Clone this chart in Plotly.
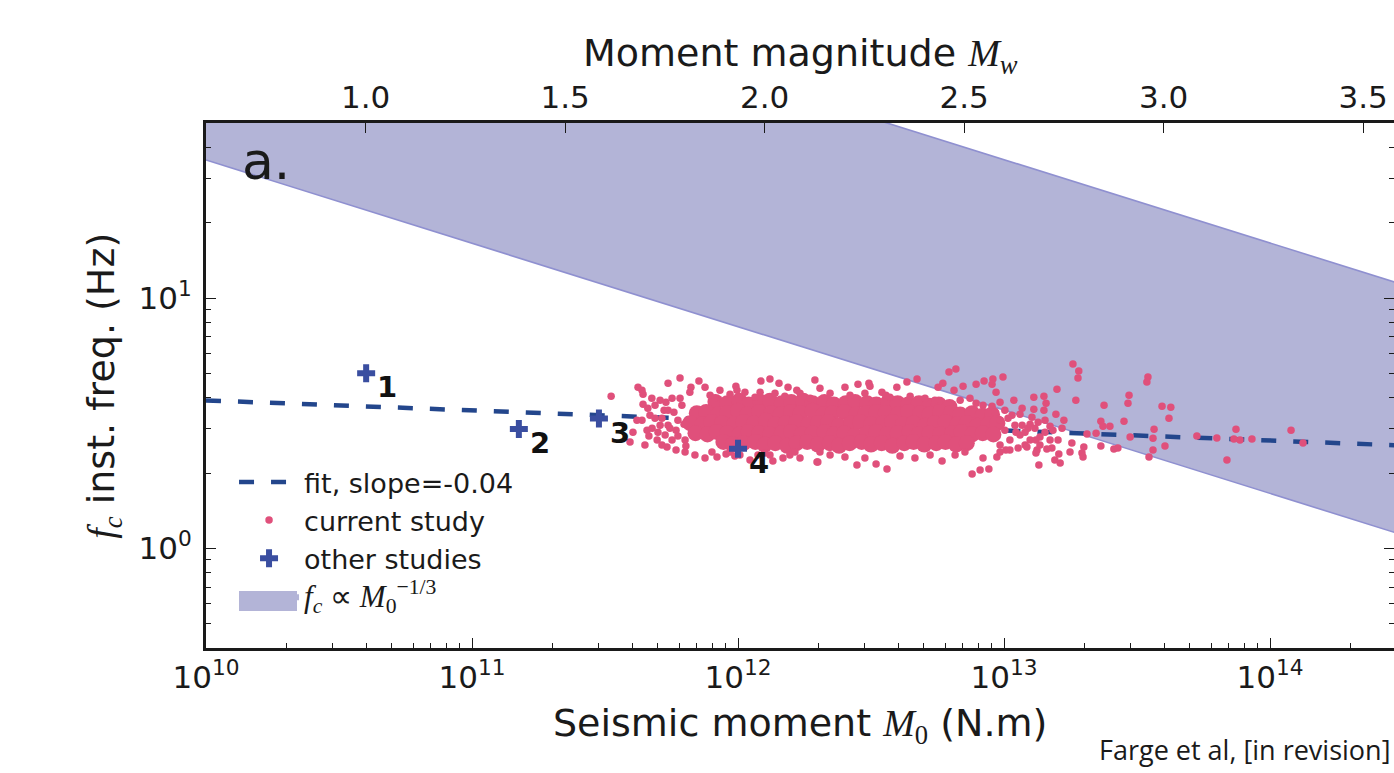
import numpy as np
import plotly.graph_objects as go

# ---------------- data ----------------
# other studies (crosses with numbers)
study_m0 = [4e10, 1.5e11, 3e11, 1e12]
study_fc = [5.0, 3.0, 3.3, 2.5]
study_labels = ["1", "2", "3", "4"]

# fitted line, slope -0.04 in log-log
fit_m0 = [1e10, 3e14]
fit_fc = [3.9, 2.58]

# fc ~ M0^(-1/3) band (lower and upper edges)
band_m0 = [1e10, 3e14]
band_fc_low = [35.6, 1.15]
band_fc_high = [356.0, 11.5]

# axis ticks
mw_ticks = [1.0, 1.5, 2.0, 2.5, 3.0, 3.5]
mw_tick_text = ["1.0", "1.5", "2.0", "2.5", "3.0", "3.5"]
m0_tick_exps = [10, 11, 12, 13, 14]
fc_tick_exps = [0, 1]

# current study: scattered events (log10 M0 [N.m], log10 fc [Hz])
cloud_log_m0 = [
    11.523, 11.624, 11.639, 11.643, 11.643, 11.737, 11.782, 11.853, 11.823, 11.876,
    11.992, 11.996, 12.086, 12.120, 12.154, 12.188, 12.221, 12.289, 11.594, 11.658,
    11.665, 11.733, 11.921, 11.955, 12.131, 12.169, 12.297, 11.620, 11.639, 11.669,
    11.688, 11.707, 11.722, 11.707, 11.726, 11.752, 11.767, 11.801, 11.838, 11.876,
    12.007, 12.045, 12.075, 12.233, 11.819, 11.932, 12.026, 11.737, 11.752, 11.774,
    11.767, 11.789, 11.801, 11.895, 12.083, 11.970, 12.120, 12.195, 12.139, 12.233,
    11.688, 11.677, 11.696, 11.737, 12.308, 12.402, 12.451, 12.492, 12.496, 12.541,
    12.556, 12.597, 12.635, 12.673, 12.752, 12.770, 12.793, 12.819, 12.812, 12.846,
    12.895, 12.925, 12.958, 12.955, 12.996, 12.970, 13.037, 12.895, 12.921, 12.955,
    13.060, 12.300, 12.447, 12.519, 12.560, 12.767, 12.880, 12.910, 12.943, 12.921,
    12.973, 12.346, 12.421, 12.477, 12.571, 12.647, 12.703, 12.740, 12.835, 12.872,
    12.346, 12.402, 12.477, 12.609, 12.665, 12.722, 12.816, 12.853, 12.985, 13.022,
    12.985, 13.003, 13.022, 13.041, 13.060, 13.079, 13.030, 13.090, 12.985, 12.966,
    13.003, 12.985, 13.259, 13.281, 13.278, 13.541, 13.537, 13.199, 13.112, 13.150,
    13.158, 13.112, 13.105, 13.128, 13.195, 13.270, 13.154, 13.470, 13.466, 13.376,
    13.364, 13.372, 13.398, 13.451, 13.594, 13.627, 13.620, 13.564, 13.560, 13.474,
    13.346, 13.312, 13.218, 13.184, 13.255, 13.300, 13.364, 13.413, 13.428, 13.560,
    13.545, 13.605, 13.725, 13.800, 13.872, 13.864, 13.887, 13.932, 13.838, 14.079,
    14.124, 13.293, 13.297, 13.248, 13.206, 13.211, 13.191, 13.131, 13.180, 13.161,
    13.124, 13.120, 13.135, 13.086, 13.068, 13.079, 13.098, 13.116, 13.135, 13.154,
    13.173, 11.661, 11.676, 11.699, 11.714, 11.729, 11.744, 11.759, 11.774, 11.782,
    11.797, 11.804, 11.714, 11.650, 11.605, 13.015, 13.045, 13.068, 13.098, 13.120,
    13.150, 13.173, 13.203, 13.225, 13.053, 13.007, 11.913, 11.970, 12.064, 12.176,
    12.271, 11.902, 11.988, 12.101, 12.214, 12.308,
]
cloud_log_fc = [
    0.608, 0.644, 0.632, 0.616, 0.576, 0.660, 0.680, 0.668, 0.644, 0.644,
    0.648, 0.632, 0.668, 0.676, 0.660, 0.644, 0.632, 0.672, 0.425, 0.472,
    0.449, 0.405, 0.365, 0.377, 0.349, 0.361, 0.345, 0.512, 0.512, 0.532,
    0.520, 0.592, 0.552, 0.492, 0.453, 0.433, 0.393, 0.385, 0.373, 0.361,
    0.373, 0.353, 0.373, 0.361, 0.624, 0.632, 0.624, 0.552, 0.600, 0.512,
    0.472, 0.572, 0.433, 0.612, 0.624, 0.385, 0.373, 0.373, 0.620, 0.620,
    0.572, 0.480, 0.433, 0.492, 0.640, 0.644, 0.656, 0.660, 0.648, 0.624,
    0.612, 0.644, 0.664, 0.676, 0.644, 0.660, 0.704, 0.716, 0.632, 0.648,
    0.656, 0.668, 0.676, 0.656, 0.684, 0.624, 0.592, 0.580, 0.572, 0.568,
    0.536, 0.345, 0.333, 0.337, 0.317, 0.349, 0.297, 0.313, 0.317, 0.361,
    0.365, 0.620, 0.612, 0.620, 0.604, 0.608, 0.600, 0.592, 0.592, 0.600,
    0.373, 0.365, 0.361, 0.369, 0.361, 0.373, 0.373, 0.385, 0.385, 0.393,
    0.512, 0.472, 0.433, 0.492, 0.453, 0.413, 0.532, 0.480, 0.413, 0.544,
    0.552, 0.584, 0.736, 0.708, 0.680, 0.684, 0.664, 0.636, 0.604, 0.608,
    0.580, 0.556, 0.524, 0.504, 0.536, 0.592, 0.512, 0.612, 0.580, 0.572,
    0.508, 0.488, 0.488, 0.508, 0.568, 0.564, 0.520, 0.476, 0.440, 0.445,
    0.460, 0.457, 0.480, 0.472, 0.421, 0.405, 0.409, 0.397, 0.401, 0.393,
    0.365, 0.409, 0.449, 0.441, 0.476, 0.437, 0.433, 0.437, 0.353, 0.472,
    0.421, 0.381, 0.365, 0.385, 0.377, 0.341, 0.353, 0.333, 0.401, 0.397,
    0.393, 0.381, 0.445, 0.405, 0.492, 0.464, 0.433, 0.480, 0.413, 0.464,
    0.433, 0.560, 0.600, 0.464, 0.520, 0.584, 0.480, 0.544, 0.449, 0.600,
    0.496, 0.409, 0.413, 0.413, 0.464, 0.520, 0.464, 0.560, 0.496, 0.433,
    0.552, 0.488, 0.433, 0.512, 0.401, 0.393, 0.600, 0.616, 0.604, 0.608,
    0.600, 0.385, 0.369, 0.381, 0.385, 0.385,
]

# current study: the densely overlapping centre of the cloud
core_log_m0 = [
    11.915, 11.96, 12.005, 12.04, 12.085, 12.12, 12.165, 12.20, 12.245,
    12.28, 12.325, 12.36, 12.405, 12.44, 12.485, 12.52, 12.565, 12.60, 12.64,
    12.68, 12.72, 12.755, 12.795,
    11.845, 11.88, 11.925, 11.96, 12.00, 12.035, 12.08, 12.125, 12.16, 12.20,
    12.235, 12.28, 12.32, 12.355, 12.40, 12.445, 12.48, 12.52, 12.555, 12.60,
    12.64, 12.685, 12.72, 12.76, 12.80, 12.835, 12.88, 12.92, 12.955,
    11.82, 11.865, 11.90, 11.94, 11.985, 12.02, 12.06, 12.105, 12.14, 12.18,
    12.22, 12.265, 12.30, 12.34, 12.38, 12.425, 12.46, 12.50, 12.545, 12.58,
    12.62, 12.66, 12.705, 12.74, 12.78, 12.825, 12.86, 12.90, 12.94, 12.975,
    11.84, 11.885, 11.92, 11.96, 12.005, 12.04, 12.08, 12.12, 12.165, 12.20,
    12.24, 12.28, 12.325, 12.36, 12.40, 12.44, 12.485, 12.52, 12.56, 12.60,
    12.645, 12.68, 12.72, 12.76, 12.805, 12.84, 12.88, 12.92, 12.96,
    11.945, 11.98, 12.02, 12.065, 12.10, 12.14, 12.185, 12.22, 12.26,
    12.30, 12.345, 12.38, 12.42, 12.465, 12.50, 12.54, 12.58, 12.625, 12.66,
    12.70, 12.745, 12.78, 12.82, 12.86,
]
core_log_fc = [
    0.585, 0.58, 0.59, 0.575, 0.585, 0.59, 0.58, 0.585, 0.59,
    0.58, 0.585, 0.575, 0.58, 0.585, 0.58, 0.575, 0.585, 0.58, 0.575,
    0.58, 0.57, 0.575, 0.565,
    0.54, 0.545, 0.535, 0.54, 0.55, 0.535, 0.545, 0.54, 0.535, 0.545,
    0.54, 0.55, 0.535, 0.54, 0.545, 0.535, 0.54, 0.545, 0.54, 0.535,
    0.545, 0.54, 0.535, 0.545, 0.54, 0.535, 0.54, 0.53, 0.535,
    0.50, 0.495, 0.505, 0.50, 0.495, 0.505, 0.50, 0.51, 0.495, 0.50,
    0.505, 0.495, 0.50, 0.505, 0.49, 0.50, 0.505, 0.495, 0.50, 0.505,
    0.495, 0.50, 0.49, 0.50, 0.505, 0.495, 0.50, 0.49, 0.495, 0.50,
    0.46, 0.455, 0.465, 0.46, 0.455, 0.465, 0.46, 0.455, 0.46, 0.465,
    0.455, 0.46, 0.465, 0.455, 0.46, 0.45, 0.46, 0.465, 0.455, 0.46,
    0.465, 0.455, 0.46, 0.455, 0.46, 0.465, 0.455, 0.46, 0.455,
    0.425, 0.415, 0.42, 0.425, 0.415, 0.42, 0.41, 0.42, 0.425,
    0.415, 0.42, 0.41, 0.42, 0.425, 0.415, 0.42, 0.41, 0.42, 0.425,
    0.415, 0.42, 0.425, 0.415, 0.42,
]

# ---------------- styling ----------------
FONT = "DejaVu Sans"
INK = "#1a1a1a"
PINK = "#e0507b"
CROSS = "#3a4ea0"
FIT = "#23468c"
BAND_FILL = "#b3b4d7"
BAND_EDGE = "#8f90d0"
MATH = "<span style=\"font-family:'Liberation Serif'\">{}</span>"
MATH_BIG = "<span style=\"font-family:'Liberation Serif';font-size:31px\">{}</span>"

x_range = [10.0, 14.466]
y_range = [np.log10(0.4), np.log10(50.0)]

fig = go.Figure()

# band: lower edge, fill, upper edge
fig.add_trace(go.Scatter(
    x=band_m0, y=band_fc_low, mode="lines",
    line=dict(color=BAND_EDGE, width=1.6), showlegend=False, hoverinfo="skip"))
fig.add_trace(go.Scatter(
    x=band_m0, y=band_fc_high, mode="lines", fill="tonexty",
    fillcolor=BAND_FILL, line=dict(color=BAND_FILL, width=0),
    name=MATH_BIG.format("<i>f</i><sub><i>c</i></sub> \u221d <i>M</i><sub>0</sub><sup>\u22121/3</sup>"),
    legendrank=4))
fig.add_trace(go.Scatter(
    x=band_m0, y=band_fc_high, mode="lines",
    line=dict(color=BAND_EDGE, width=1.6), showlegend=False, hoverinfo="skip"))

# fit
fig.add_trace(go.Scatter(
    x=fit_m0, y=fit_fc, mode="lines",
    line=dict(color=FIT, width=4.5, dash="15px,17px"),
    name="fit, slope=-0.04", legendrank=1))

# current study
fig.add_trace(go.Scatter(
    x=[10 ** v for v in core_log_m0], y=[10 ** v for v in core_log_fc],
    mode="markers", marker=dict(color=PINK, size=16, line=dict(width=0)),
    showlegend=False, legendgroup="cur", hoverinfo="skip"))
fig.add_trace(go.Scatter(
    x=[10 ** v for v in cloud_log_m0], y=[10 ** v for v in cloud_log_fc],
    mode="markers", marker=dict(color=PINK, size=7.5, line=dict(width=0)),
    name="current study", legendgroup="cur", legendrank=2))

# other studies (drawn on the overlay axes, which share the same ranges)
fig.add_trace(go.Scatter(
    x=study_m0, y=study_fc, mode="markers", xaxis="x2", yaxis="y2",
    marker=dict(color=CROSS, symbol="cross", size=15, line=dict(width=0)),
    name="other studies", legendrank=3))

# minor tick positions
x_minor = [k * 10.0 ** n for n in range(10, 15) for k in range(2, 10)]
y_minor = [k * 10.0 ** n for n in range(-1, 2) for k in range(2, 10)]

axis_common = dict(type="log", showgrid=False, zeroline=False,
                   ticks="inside", tickcolor=INK, tickwidth=1.3, ticklen=10,
                   tickfont=dict(family=FONT, size=31, color=INK))

fig.update_layout(
    width=1394, height=773,
    margin=dict(l=206, r=0, t=123, b=125),
    paper_bgcolor="white", plot_bgcolor="white",
    font=dict(family=FONT, color=INK),
    xaxis=dict(**axis_common, range=x_range,
               tickvals=[10.0 ** e for e in m0_tick_exps],
               ticktext=[f"10<sup>{e}</sup>" for e in m0_tick_exps],
               minor=dict(tickvals=x_minor, ticks="inside", ticklen=5,
                          tickcolor=INK, tickwidth=1.1),
               showline=True, linecolor=INK, linewidth=3),
    xaxis2=dict(**axis_common, range=x_range, overlaying="x", side="top",
                anchor="y",
                tickvals=[10.0 ** (1.5 * m + 9.1) for m in mw_ticks],
                ticktext=mw_tick_text,
                showline=True, linecolor=INK, linewidth=3),
    yaxis=dict(**axis_common, range=y_range,
               tickvals=[10.0 ** e for e in fc_tick_exps],
               ticktext=[f"10<sup>{e}</sup>" for e in fc_tick_exps],
               ticklabelstandoff=5,
               minor=dict(tickvals=y_minor, ticks="inside", ticklen=5,
                          tickcolor=INK, tickwidth=1.1),
               showline=True, linecolor=INK, linewidth=3),
    yaxis2=dict(**axis_common, range=y_range, overlaying="y", side="right",
                anchor="x", showticklabels=False, showline=False,
                tickvals=[10.0 ** e for e in fc_tick_exps],
                minor=dict(tickvals=y_minor, ticks="inside", ticklen=5,
                           tickcolor=INK, tickwidth=1.1)),
    legend=dict(x=0.0236, y=0.362, xanchor="left", yanchor="top",
                bgcolor="rgba(0,0,0,0)", borderwidth=0,
                font=dict(family=FONT, size=27, color=INK),
                traceorder="normal", itemwidth=60),
    showlegend=True,
)

# legend swatch for the band drawn as a full-height patch (like the reference)
fig.add_shape(type="rect", xref="paper", yref="paper",
              x0=0.0278, x1=0.0766, y0=0.0705, y1=0.1085,
              fillcolor=BAND_FILL, line=dict(width=0), layer="above")

annotations = [
    dict(text="Seismic moment " + MATH.format("<i>M</i><sub>0</sub>") + " (N.m)",
         x=0.5, y=-0.148, xref="paper", yref="paper", xanchor="center",
         yanchor="middle", showarrow=False, font=dict(size=38, family=FONT, color=INK)),
    dict(text="Moment magnitude " + MATH.format("<i>M</i><sub><i>w</i></sub>"),
         x=0.5, y=1.128, xref="paper", yref="paper", xanchor="center",
         yanchor="middle", showarrow=False, font=dict(size=38, family=FONT, color=INK)),
    dict(text=MATH.format("<i>f</i><sub><i>c</i></sub>") + " inst. freq. (Hz)",
         x=-0.0865, y=0.5, xref="paper", yref="paper", xanchor="center",
         yanchor="middle", textangle=-90, showarrow=False,
         font=dict(size=38, family=FONT, color=INK)),
    dict(text="a.", x=0.029, y=0.928, xref="paper", yref="paper", xanchor="left",
         yanchor="middle", showarrow=False, font=dict(size=52, family=FONT, color=INK)),
    dict(text="Farge et al, [in revision]", x=0.9985, y=-0.194, xref="paper",
         yref="paper", xanchor="right", yanchor="middle", showarrow=False,
         font=dict(size=27, family="Open Sans", color=INK)),
]
for m0, fc, lab in zip(study_m0, study_fc, study_labels):
    annotations.append(dict(text=f"<b>{lab}</b>", x=np.log10(m0), y=np.log10(fc),
                            xref="x", yref="y", xshift=21, yshift=-14,
                            showarrow=False,
                            font=dict(size=29, family=FONT, color="#111111")))
fig.update_layout(annotations=annotations)

fig.write_html("out.html")
